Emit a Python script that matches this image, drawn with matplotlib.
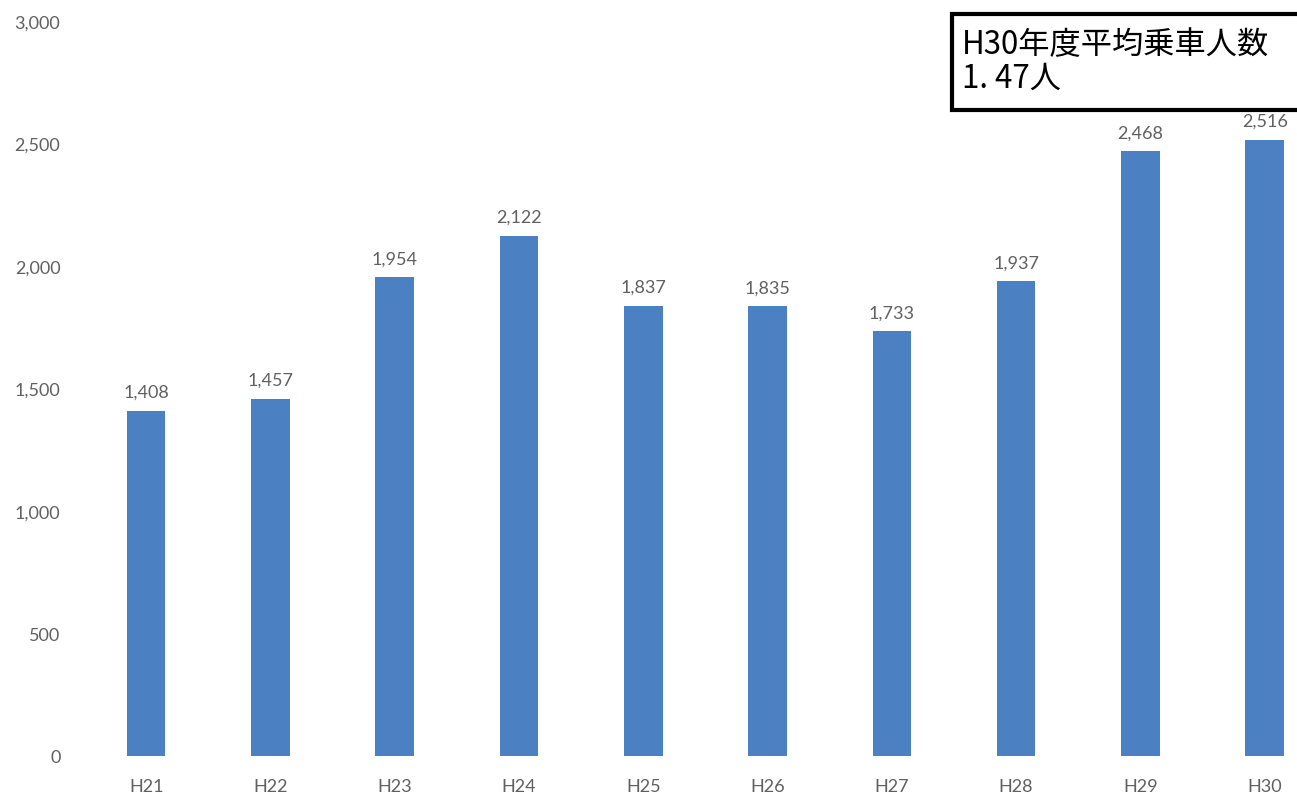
import matplotlib
matplotlib.use('Agg')
import matplotlib.pyplot as plt
from matplotlib.patches import Rectangle

plt.rcParams['font.family'] = ['Lato', 'DejaVu Sans']

years = ['H21', 'H22', 'H23', 'H24', 'H25', 'H26', 'H27', 'H28', 'H29', 'H30']
riders = [1408, 1457, 1954, 2122, 1837, 1835, 1733, 1937, 2468, 2516]
y_ticks = [0, 500, 1000, 1500, 2000, 2500, 3000]
note_lines = ['H30年度平均乗車人数', '1. 47人']

bar_color = '#4b80c2'
text_color = '#606060'

fig = plt.figure(figsize=(12.97, 8.03), dpi=100)
ax = fig.add_axes([84 / 1297, 46 / 803, (1297 - 84) / 1297, 735 / 803])

x = range(len(years))
bars = ax.bar(x, riders, width=0.31, color=bar_color)
for b, v in zip(bars, riders):
    ax.text(b.get_x() + b.get_width() / 2, v + 45, f'{v:,}', ha='center', va='bottom',
            fontsize=13, color=text_color)

ax.set_xlim(-0.5, 9.26)
ax.set_ylim(0, 3000)
ax.set_xticks(list(x))
ax.set_xticklabels(years)
ax.set_yticks(y_ticks)
ax.set_yticklabels([f'{t:,}' for t in y_ticks])
ax.tick_params(axis='both', length=0, labelsize=13, labelcolor=text_color)
ax.tick_params(axis='x', pad=16)
ax.tick_params(axis='y', pad=17)
for s in ax.spines.values():
    s.set_visible(False)

# summary box in the upper right corner
box = Rectangle((952 / 1297, 1 - 111 / 803), 0.3, 96 / 803, transform=fig.transFigure,
                facecolor='white', edgecolor='black', linewidth=3, zorder=5)
fig.patches.append(box)
cjk = ['Noto Sans CJK JP', 'DejaVu Sans']
fig.text(962 / 1297, 1 - 45 / 803, note_lines[0], fontsize=22.5, family=cjk,
         va='center', ha='left', color='black', zorder=6)
fig.text(962 / 1297, 1 - 79 / 803, note_lines[1], fontsize=22.5, family=cjk,
         va='center', ha='left', color='black', zorder=6)

fig.savefig('out.png', dpi=100, facecolor='white')
